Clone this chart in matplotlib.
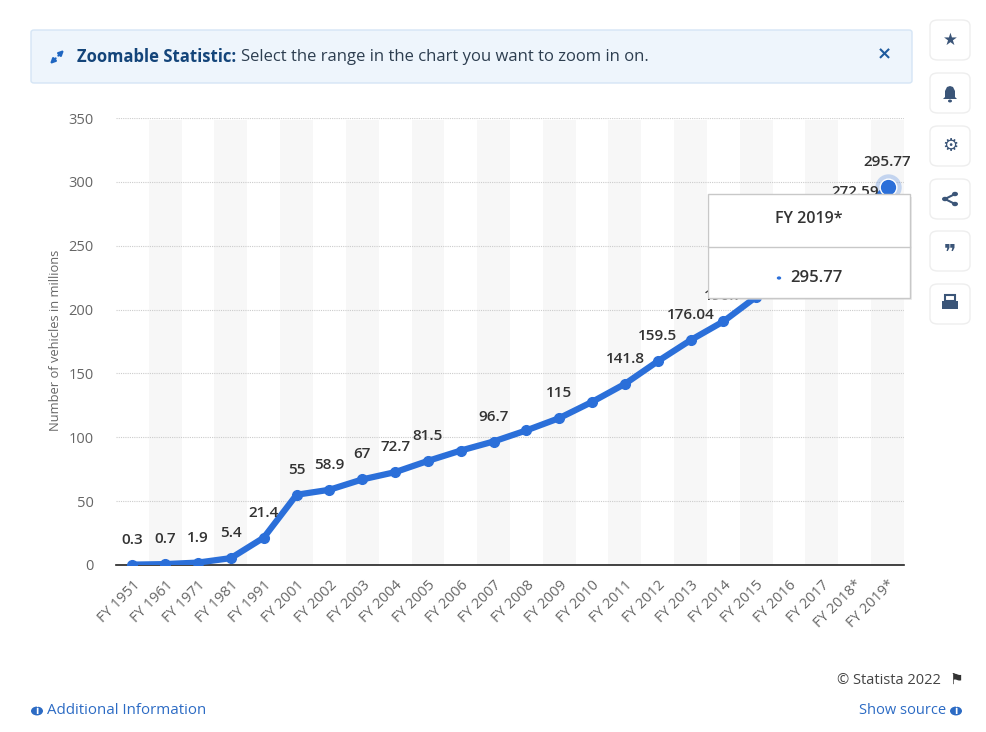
import numpy as np
import matplotlib
matplotlib.use('Agg')
import matplotlib.pyplot as plt
from matplotlib.patches import Rectangle, FancyBboxPatch, Circle, Polygon, FancyArrowPatch

plt.rcParams['font.family'] = ['Open Sans', 'DejaVu Sans']

# datos
years = ['FY 1951', 'FY 1961', 'FY 1971', 'FY 1981', 'FY 1991', 'FY 2001',
         'FY 2002', 'FY 2003', 'FY 2004', 'FY 2005', 'FY 2006', 'FY 2007',
         'FY 2008', 'FY 2009', 'FY 2010', 'FY 2011', 'FY 2012', 'FY 2013',
         'FY 2014', 'FY 2015', 'FY 2016', 'FY 2017', 'FY 2018*', 'FY 2019*']
vehicles = [0.3, 0.7, 1.9, 5.4, 21.4, 55, 58.9, 67, 72.7, 81.5, 89.6, 96.7,
            105.4, 115, 127.7, 141.8, 159.5, 176.04, 190.7, 210.02, 230.03,
            253.3, 272.59, 295.77]
# etiquetas visibles ('' = ocultada en la captura)
labels = ['0.3', '0.7', '1.9', '5.4', '21.4', '55', '58.9', '67', '72.7', '81.5',
          '', '96.7', '', '115', '', '141.8', '159.5', '176.04', '190.7',
          '', '', '', '272.59', '295.77']
yticks = [0, 50, 100, 150, 200, 250, 300, 350]

W, H = 986, 732
def fx(x):
    return x / W
def fy(y):
    return 1 - y / H

azul = '#2b6fd9'
gris = '#666666'

fig = plt.figure(figsize=(W / 100, H / 100), dpi=100)
fig.patch.set_facecolor('white')

ax = fig.add_axes([fx(116), fy(565), fx(904) - fx(116), fy(118) - fy(565)])
x = np.arange(len(years))

# bandas grises
for i in x:
    if i % 2 == 1:
        ax.axvspan(i - 0.5, i + 0.5, ymin=0, ymax=0.995, color='#f7f7f7', zorder=0, lw=0)

ax.plot(x, vehicles, color=azul, lw=4.5, marker='o', ms=7, zorder=3,
        solid_capstyle='round', solid_joinstyle='round')
# punto seleccionado
ax.plot(x[-1], vehicles[-1], 'o', ms=19, color=azul, alpha=0.25, zorder=4, mec='none')
ax.plot(x[-1], vehicles[-1], 'o', ms=12, color=azul, zorder=5, mec='white', mew=1)

for xi, v, t in zip(x, vehicles, labels):
    if t:
        ax.annotate(t, (xi, v), xytext=(0, 18), textcoords='offset points',
                    ha='center', va='center', fontsize=11, fontweight='semibold',
                    color='#333333', zorder=6)

ax.set_xlim(-0.5, len(years) - 0.5)
ax.set_ylim(0, 350)
ax.set_yticks(yticks)
ax.set_xticks(x)
ax.set_xticklabels(years, rotation=45, ha='right', rotation_mode='anchor',
                   fontsize=10.5, color=gris)
ax.tick_params(axis='x', length=0, pad=9)
ax.tick_params(axis='y', length=0, pad=16, labelsize=10.5, labelcolor=gris)
ax.grid(axis='y', color='#cccccc', ls=(0, (1, 1)), lw=0.8, zorder=1)
ax.set_axisbelow(True)
for s in ['top', 'right', 'left']:
    ax.spines[s].set_visible(False)
ax.spines['bottom'].set_color('#222222')
ax.spines['bottom'].set_linewidth(1.2)
ax.spines['bottom'].set_zorder(2)
fig.text(fx(56), fy(340), 'Number of vehicles in millions', rotation=90,
         ha='center', va='center', fontsize=9.3, color=gris)

# tooltip
fig.patches.append(Rectangle((fx(710), fy(300)), fx(912) - fx(710), fy(195) - fy(298),
                             transform=fig.transFigure, fc='#dddddd', ec='none', zorder=9, alpha=0.5))
fig.patches.append(Rectangle((fx(708), fy(298)), fx(910) - fx(708), fy(194) - fy(298),
                             transform=fig.transFigure, fc='white', ec='#c8c8c8', lw=1, zorder=10))
fig.lines.append(plt.Line2D([fx(708), fx(910)], [fy(247), fy(247)], transform=fig.transFigure,
                            color='#c8c8c8', lw=1, zorder=11))
fig.text(fx(809), fy(219), 'FY 2019*', ha='center', va='center', fontsize=11.5,
         fontweight='semibold', color='#333333', zorder=12)
fig.patches.append(Circle((fx(779), fy(278)), 2.2 / W, transform=fig.transFigure,
                          fc=azul, zorder=12))
fig.text(fx(790), fy(278), '295.77', ha='left', va='center', fontsize=12,
         fontweight='semibold', color='#333333', zorder=12)

# banner
fig.patches.append(FancyBboxPatch((fx(31), fy(83)), fx(912) - fx(31), fy(30) - fy(83),
                                  boxstyle='round,pad=0,rounding_size=0.003',
                                  transform=fig.transFigure, fc='#eef5fc', ec='#d5e5f5', lw=1,
                                  zorder=1))
# icono de zoom (flechas diagonales)
for dx, dy in [(7, -7), (-7, 7)]:
    fig.add_artist(FancyArrowPatch((fx(57 + dx * 0.2), fy(57 + dy * 0.2)), (fx(57 + dx), fy(57 + dy)),
                                   transform=fig.transFigure, arrowstyle='-|>',
                                   mutation_scale=7, color='#1f66c1', lw=1.6,
                                   shrinkA=0, shrinkB=0, zorder=5))
t1 = fig.text(fx(77), fy(57), 'Zoomable Statistic:', ha='left', va='center', fontsize=12,
              fontweight='bold', color='#14457a')
fig.canvas.draw()
bb = t1.get_window_extent()
fig.text((bb.x1 + 5) / W, fy(57), 'Select the range in the chart you want to zoom in on.',
         ha='left', va='center', fontsize=12, color='#2d3e50')
fig.text(fx(884), fy(54), '×', ha='center', va='center', fontsize=13, fontweight='bold',
         color='#1f5b9e', family=['DejaVu Sans'])

# iconos laterales
icon_col = '#3b5578'
centros = [40, 93, 146, 199, 251, 304]
for cy in centros:
    fig.patches.append(FancyBboxPatch((fx(930), fy(cy + 20)), fx(970) - fx(930), fy(cy - 20) - fy(cy + 20),
                                      boxstyle='round,pad=0,rounding_size=0.008',
                                      transform=fig.transFigure, fc='white', ec='#eeeeee', lw=1))
fig.text(fx(950), fy(40), '★', ha='center', va='center', fontsize=12, color=icon_col,
         family=['DejaVu Sans'])
# campana
bx, by = 950, 93
bell = Polygon([(fx(bx - 7), fy(by + 6)), (fx(bx - 5), fy(by + 4)), (fx(bx - 5), fy(by - 2)),
                (fx(bx - 3), fy(by - 6)), (fx(bx), fy(by - 7)), (fx(bx + 3), fy(by - 6)),
                (fx(bx + 5), fy(by - 2)), (fx(bx + 5), fy(by + 4)), (fx(bx + 7), fy(by + 6))],
               closed=True, transform=fig.transFigure, fc=icon_col, ec='none')
fig.patches.append(bell)
fig.patches.append(Circle((fx(bx), fy(by + 8)), 2 / W, transform=fig.transFigure, fc=icon_col))
fig.text(fx(950), fy(146), '⚙', ha='center', va='center', fontsize=13, color=icon_col,
         family=['DejaVu Sans'])
# compartir
sx, sy = 950, 199
pts = [(sx - 5, sy), (sx + 5, sy - 5), (sx + 5, sy + 5)]
for p in pts[1:]:
    fig.lines.append(plt.Line2D([fx(pts[0][0]), fx(p[0])], [fy(pts[0][1]), fy(p[1])],
                                transform=fig.transFigure, color=icon_col, lw=1.5))
for p in pts:
    fig.patches.append(Circle((fx(p[0]), fy(p[1])), 3 / W, transform=fig.transFigure, fc=icon_col))
fig.text(fx(950), fy(253), '❞', ha='center', va='center', fontsize=15, fontweight='bold',
         color=icon_col, family=['DejaVu Sans'])
# impresora
px_, py_ = 950, 304
fig.patches.append(Rectangle((fx(px_ - 8), fy(py_ + 5)), 16 / W, 8 / H, transform=fig.transFigure,
                             fc=icon_col, ec='none'))
fig.patches.append(Rectangle((fx(px_ - 5), fy(py_ - 3)), 10 / W, 6 / H, transform=fig.transFigure,
                             fc='white', ec=icon_col, lw=1.5))

# pie
fig.text(fx(941), fy(680), '© Statista 2022', ha='right', va='center', fontsize=10.5, color='#444444')
fig.text(fx(956), fy(679), '⚑', ha='center', va='center', fontsize=11, color='#333333',
         family=['DejaVu Sans'])
fig.text(fx(946), fy(711), 'Show source', ha='right', va='center', fontsize=10.5, color='#2c6bc4')
fig.patches.append(Circle((fx(956), fy(711)), 6 / W, transform=fig.transFigure, fc='#2c6bc4'))
fig.text(fx(956), fy(711), 'i', ha='center', va='center', fontsize=8, fontweight='bold', color='white')
fig.patches.append(Circle((fx(37), fy(711)), 6 / W, transform=fig.transFigure, fc='#2c6bc4'))
fig.text(fx(37), fy(711), 'i', ha='center', va='center', fontsize=8, fontweight='bold', color='white')
fig.text(fx(47), fy(711), 'Additional Information', ha='left', va='center', fontsize=10.8, color='#2c6bc4')

fig.savefig('out.png', dpi=100)
